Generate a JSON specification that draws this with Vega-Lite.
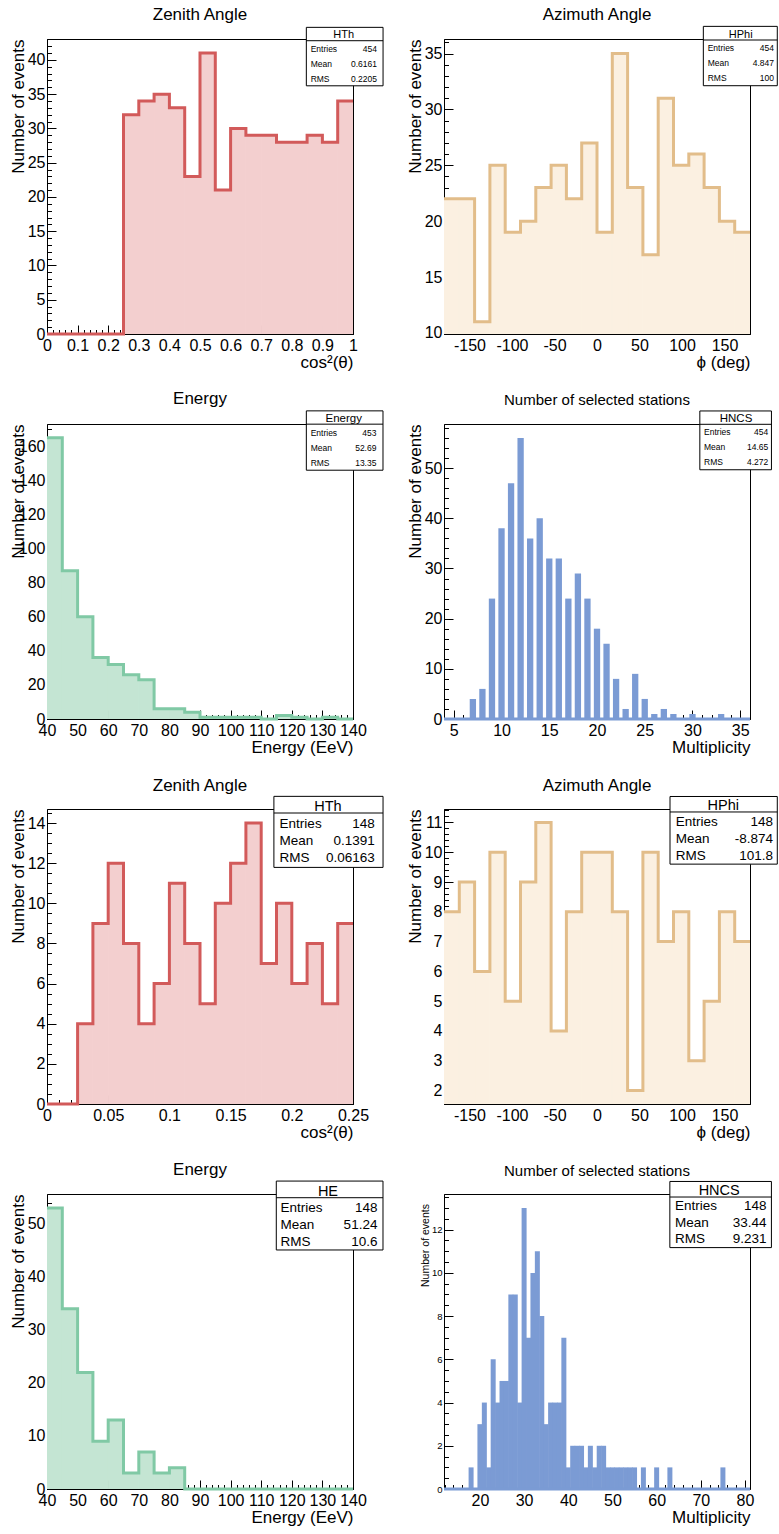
{
"$schema": "https://vega.github.io/schema/vega-lite/v6.json",
"background": "white",
"padding": {"left": 8, "top": 5, "right": 0, "bottom": 0},
"columns": 2,
"spacing": {"row": 90, "column": 91},
"bounds": "flush",
"concat": [
{
 "width": 306, "height": 295,
 "title": {"text": "Zenith Angle", "offset": 3.2},
 "resolve": {"axis": {"x": "independent", "y": "independent"}},
 "layer": [
  {"data": {"name": "hth1"}, "mark": {"type": "rect", "fill": "#f3cfcf", "stroke": "#f3cfcf", "strokeWidth": 1, "clip": true},
   "encoding": {
    "x": {"field": "lo", "type": "quantitative", "scale": {"domain": [0, 1], "nice": false, "zero": false}, "axis": {"values": [0,0.1,0.2,0.3,0.4,0.5,0.6,0.7,0.8,0.9,1], "labelExpr": "'' + datum.value", "title": "cos²(θ)"}},
    "x2": {"field": "hi"},
    "y": {"field": "n", "type": "quantitative", "scale": {"domain": [0, 43.05], "nice": false, "zero": false}, "axis": {"values": [0,5,10,15,20,25,30,35,40], "title": "Number of events"}},
    "y2": {"datum": 0}}},
  {"data": {"name": "hth1"}, "transform": [{"fold": ["lo", "hi"], "as": ["edge", "x"]}],
   "mark": {"type": "line", "color": "#d25a5a", "strokeWidth": 3, "strokeJoin": "miter", "strokeCap": "butt"},
   "encoding": {
    "x": {"field": "x", "type": "quantitative", "axis": {"orient": "bottom", "tickCount": 50, "labels": false, "domain": false, "tickSize": -4.5, "title": null}},
    "y": {"field": "n", "type": "quantitative", "axis": {"orient": "left", "tickCount": 43, "labels": false, "domain": false, "tickSize": -4.5, "title": null}},
    "order": [{"field": "x", "type": "quantitative"}, {"field": "edge", "type": "nominal"}]}},
  {"data": {"name": "st1"}, "layer": [
   {"mark": {"type": "rect", "fill": "white", "stroke": "black", "strokeWidth": 1}, "encoding": {"x": {"datum": 0.8475, "type": "quantitative", "axis": null}, "x2": {"datum": 1.0982}, "y": {"datum": 44.75, "type": "quantitative", "axis": null}, "y2": {"datum": 36.22}}},
   {"mark": {"type": "rule", "color": "black", "strokeWidth": 1}, "encoding": {"x": {"datum": 0.8475, "type": "quantitative", "axis": null}, "x2": {"datum": 1.0982}, "y": {"datum": 42.8, "type": "quantitative", "axis": null}}},
   {"mark": {"type": "text", "align": "center", "baseline": "alphabetic", "fontSize": 11, "color": "black"}, "encoding": {"x": {"datum": 0.9696, "type": "quantitative", "axis": null}, "y": {"datum": 43.2, "type": "quantitative", "axis": null}, "text": {"field": "title", "type": "nominal"}}},
   {"mark": {"type": "text", "align": "left", "baseline": "alphabetic", "fontSize": 8.5, "lineHeight": 15, "color": "black"}, "encoding": {"x": {"datum": 0.8616, "type": "quantitative", "axis": null}, "y": {"datum": 41.2, "type": "quantitative", "axis": null}, "text": {"field": "labels", "type": "nominal"}}},
   {"mark": {"type": "text", "align": "right", "baseline": "alphabetic", "fontSize": 8.5, "lineHeight": 15, "color": "black"}, "encoding": {"x": {"datum": 1.0785, "type": "quantitative", "axis": null}, "y": {"datum": 41.2, "type": "quantitative", "axis": null}, "text": {"field": "values", "type": "nominal"}}}
  ]}
 ]
},
{
 "width": 306, "height": 295,
 "title": {"text": "Azimuth Angle", "offset": 2.2},
 "resolve": {"axis": {"x": "independent", "y": "independent"}},
 "layer": [
  {"data": {"name": "hphi1"}, "mark": {"type": "rect", "fill": "#fbf0e1", "stroke": "#fbf0e1", "strokeWidth": 1, "clip": true},
   "encoding": {
    "x": {"field": "lo", "type": "quantitative", "scale": {"domain": [-180, 180], "nice": false, "zero": false}, "axis": {"values": [-150,-100,-50,0,50,100,150], "labelExpr": "'' + datum.value", "title": "ϕ (deg)"}},
    "x2": {"field": "hi"},
    "y": {"field": "n", "type": "quantitative", "scale": {"domain": [9.9, 36.3], "nice": false, "zero": false}, "axis": {"values": [10,15,20,25,30,35], "title": "Number of events"}},
    "y2": {"datum": 0}}},
  {"data": {"name": "hphi1"}, "transform": [{"fold": ["lo", "hi"], "as": ["edge", "x"]}],
   "mark": {"type": "line", "color": "#e2bd8a", "strokeWidth": 3, "strokeJoin": "miter", "strokeCap": "butt"},
   "encoding": {
    "x": {"field": "x", "type": "quantitative", "axis": {"orient": "bottom", "tickCount": 36, "labels": false, "domain": false, "tickSize": -4.5, "title": null}},
    "y": {"field": "n", "type": "quantitative", "axis": {"orient": "left", "tickCount": 26, "labels": false, "domain": false, "tickSize": -4.5, "title": null}},
    "order": [{"field": "x", "type": "quantitative"}, {"field": "edge", "type": "nominal"}]}},
  {"data": {"name": "st2"}, "layer": [
   {"mark": {"type": "rect", "fill": "white", "stroke": "black", "strokeWidth": 1}, "encoding": {"x": {"datum": 125.1, "type": "quantitative", "axis": null}, "x2": {"datum": 212.1}, "y": {"datum": 37.43, "type": "quantitative", "axis": null}, "y2": {"datum": 32.12}}},
   {"mark": {"type": "rule", "color": "black", "strokeWidth": 1}, "encoding": {"x": {"datum": 125.1, "type": "quantitative", "axis": null}, "x2": {"datum": 212.1}, "y": {"datum": 36.21, "type": "quantitative", "axis": null}}},
   {"mark": {"type": "text", "align": "center", "baseline": "alphabetic", "fontSize": 11, "color": "black"}, "encoding": {"x": {"datum": 169.1, "type": "quantitative", "axis": null}, "y": {"datum": 36.39, "type": "quantitative", "axis": null}, "text": {"field": "title", "type": "nominal"}}},
   {"mark": {"type": "text", "align": "left", "baseline": "alphabetic", "fontSize": 8.5, "lineHeight": 15, "color": "black"}, "encoding": {"x": {"datum": 130.2, "type": "quantitative", "axis": null}, "y": {"datum": 35.19, "type": "quantitative", "axis": null}, "text": {"field": "labels", "type": "nominal"}}},
   {"mark": {"type": "text", "align": "right", "baseline": "alphabetic", "fontSize": 8.5, "lineHeight": 15, "color": "black"}, "encoding": {"x": {"datum": 208.2, "type": "quantitative", "axis": null}, "y": {"datum": 35.19, "type": "quantitative", "axis": null}, "text": {"field": "values", "type": "nominal"}}}
  ]}
 ]
},
{
 "width": 306, "height": 295,
 "title": {"text": "Energy", "offset": 2.2},
 "resolve": {"axis": {"x": "independent", "y": "independent"}},
 "layer": [
  {"data": {"name": "energy1"}, "mark": {"type": "rect", "fill": "#c4e5d3", "stroke": "#c4e5d3", "strokeWidth": 1, "clip": true},
   "encoding": {
    "x": {"field": "lo", "type": "quantitative", "scale": {"domain": [40, 140], "nice": false, "zero": false}, "axis": {"values": [40,50,60,70,80,90,100,110,120,130,140], "labelExpr": "'' + datum.value", "title": "Energy (EeV)"}},
    "x2": {"field": "hi"},
    "y": {"field": "n", "type": "quantitative", "scale": {"domain": [0, 173], "nice": false, "zero": false}, "axis": {"values": [0,20,40,60,80,100,120,140,160], "title": "Number of events"}},
    "y2": {"datum": 0}}},
  {"data": {"name": "energy1"}, "transform": [{"fold": ["lo", "hi"], "as": ["edge", "x"]}],
   "mark": {"type": "line", "color": "#80c9a5", "strokeWidth": 3, "strokeJoin": "miter", "strokeCap": "butt"},
   "encoding": {
    "x": {"field": "x", "type": "quantitative", "axis": {"orient": "bottom", "tickCount": 50, "labels": false, "domain": false, "tickSize": -4.5, "title": null}},
    "y": {"field": "n", "type": "quantitative", "axis": {"orient": "left", "tickCount": 35, "labels": false, "domain": false, "tickSize": -4.5, "title": null}},
    "order": [{"field": "x", "type": "quantitative"}, {"field": "edge", "type": "nominal"}]}},
  {"data": {"name": "st3"}, "layer": [
   {"mark": {"type": "rect", "fill": "white", "stroke": "black", "strokeWidth": 1}, "encoding": {"x": {"datum": 124.75, "type": "quantitative", "axis": null}, "x2": {"datum": 149.8}, "y": {"datum": 180.7, "type": "quantitative", "axis": null}, "y2": {"datum": 145.9}}},
   {"mark": {"type": "rule", "color": "black", "strokeWidth": 1}, "encoding": {"x": {"datum": 124.75, "type": "quantitative", "axis": null}, "x2": {"datum": 149.8}, "y": {"datum": 172.9, "type": "quantitative", "axis": null}}},
   {"mark": {"type": "text", "align": "center", "baseline": "alphabetic", "fontSize": 11.5, "color": "black"}, "encoding": {"x": {"datum": 136.96, "type": "quantitative", "axis": null}, "y": {"datum": 174.3, "type": "quantitative", "axis": null}, "text": {"field": "title", "type": "nominal"}}},
   {"mark": {"type": "text", "align": "left", "baseline": "alphabetic", "fontSize": 8.5, "lineHeight": 15, "color": "black"}, "encoding": {"x": {"datum": 126.16, "type": "quantitative", "axis": null}, "y": {"datum": 166.05, "type": "quantitative", "axis": null}, "text": {"field": "labels", "type": "nominal"}}},
   {"mark": {"type": "text", "align": "right", "baseline": "alphabetic", "fontSize": 8.5, "lineHeight": 15, "color": "black"}, "encoding": {"x": {"datum": 147.66, "type": "quantitative", "axis": null}, "y": {"datum": 166.05, "type": "quantitative", "axis": null}, "text": {"field": "values", "type": "nominal"}}}
  ]}
 ]
},
{
 "width": 306, "height": 295,
 "title": {"text": "Number of selected stations", "fontSize": 15, "offset": 2.2},
 "resolve": {"axis": {"x": "independent", "y": "independent"}},
 "layer": [
  {"data": {"name": "hncs1"}, "mark": {"type": "bar", "color": "#7b9bd4", "size": 6.3},
   "encoding": {
    "x": {"field": "m", "type": "quantitative", "scale": {"domain": [4.5, 35.5], "nice": false, "zero": false}, "axis": {"values": [5,10,15,20,25,30,35], "labelExpr": "'' + datum.value", "title": "Multiplicity"}},
    "y": {"field": "n", "type": "quantitative", "scale": {"domain": [0, 58.8], "nice": false, "zero": false}, "axis": {"values": [0,10,20,30,40,50], "title": "Number of events"}}}},
  {"data": {"name": "hncs1"}, "mark": {"type": "point", "opacity": 0},
   "encoding": {
    "x": {"field": "m", "type": "quantitative", "axis": {"orient": "bottom", "tickCount": 31, "labels": false, "domain": false, "tickSize": -4.5, "title": null}},
    "y": {"field": "n", "type": "quantitative", "axis": {"orient": "left", "tickCount": 29, "labels": false, "domain": false, "tickSize": -4.5, "title": null}}}},
  {"data": {"values": [{}]}, "mark": {"type": "rule", "color": "#7b9bd4", "strokeWidth": 3},
   "encoding": {"y": {"datum": 0, "type": "quantitative", "axis": null}}},
  {"data": {"name": "st4"}, "layer": [
   {"mark": {"type": "rect", "fill": "white", "stroke": "black", "strokeWidth": 1}, "encoding": {"x": {"datum": 30.77, "type": "quantitative", "axis": null}, "x2": {"datum": 38.27}, "y": {"datum": 61.4, "type": "quantitative", "axis": null}, "y2": {"datum": 49.68}}},
   {"mark": {"type": "rule", "color": "black", "strokeWidth": 1}, "encoding": {"x": {"datum": 30.77, "type": "quantitative", "axis": null}, "x2": {"datum": 38.27}, "y": {"datum": 58.74, "type": "quantitative", "axis": null}}},
   {"mark": {"type": "text", "align": "center", "baseline": "alphabetic", "fontSize": 11.5, "color": "black"}, "encoding": {"x": {"datum": 34.56, "type": "quantitative", "axis": null}, "y": {"datum": 59.2, "type": "quantitative", "axis": null}, "text": {"field": "title", "type": "nominal"}}},
   {"mark": {"type": "text", "align": "left", "baseline": "alphabetic", "fontSize": 8.5, "lineHeight": 15, "color": "black"}, "encoding": {"x": {"datum": 31.21, "type": "quantitative", "axis": null}, "y": {"datum": 56.54, "type": "quantitative", "axis": null}, "text": {"field": "labels", "type": "nominal"}}},
   {"mark": {"type": "text", "align": "right", "baseline": "alphabetic", "fontSize": 8.5, "lineHeight": 15, "color": "black"}, "encoding": {"x": {"datum": 37.93, "type": "quantitative", "axis": null}, "y": {"datum": 56.54, "type": "quantitative", "axis": null}, "text": {"field": "values", "type": "nominal"}}}
  ]}
 ]
},
{
 "width": 306, "height": 295,
 "title": {"text": "Zenith Angle", "offset": 1.2},
 "resolve": {"axis": {"x": "independent", "y": "independent"}},
 "layer": [
  {"data": {"name": "hth2"}, "mark": {"type": "rect", "fill": "#f3cfcf", "stroke": "#f3cfcf", "strokeWidth": 1, "clip": true},
   "encoding": {
    "x": {"field": "lo", "type": "quantitative", "scale": {"domain": [0, 0.25], "nice": false, "zero": false}, "axis": {"values": [0,0.05,0.1,0.15,0.2,0.25], "labelExpr": "'' + datum.value", "title": "cos²(θ)"}},
    "x2": {"field": "hi"},
    "y": {"field": "n", "type": "quantitative", "scale": {"domain": [0, 14.7], "nice": false, "zero": false}, "axis": {"values": [0,2,4,6,8,10,12,14], "title": "Number of events"}},
    "y2": {"datum": 0}}},
  {"data": {"name": "hth2"}, "transform": [{"fold": ["lo", "hi"], "as": ["edge", "x"]}],
   "mark": {"type": "line", "color": "#d25a5a", "strokeWidth": 3, "strokeJoin": "miter", "strokeCap": "butt"},
   "encoding": {
    "x": {"field": "x", "type": "quantitative", "axis": {"orient": "bottom", "tickCount": 25, "labels": false, "domain": false, "tickSize": -4.5, "title": null}},
    "y": {"field": "n", "type": "quantitative", "axis": {"orient": "left", "tickCount": 29, "labels": false, "domain": false, "tickSize": -4.5, "title": null}},
    "order": [{"field": "x", "type": "quantitative"}, {"field": "edge", "type": "nominal"}]}},
  {"data": {"name": "st5"}, "layer": [
   {"mark": {"type": "rect", "fill": "white", "stroke": "black", "strokeWidth": 1}, "encoding": {"x": {"datum": 0.18537, "type": "quantitative", "axis": null}, "x2": {"datum": 0.27454}, "y": {"datum": 15.33, "type": "quantitative", "axis": null}, "y2": {"datum": 11.79}}},
   {"mark": {"type": "rule", "color": "black", "strokeWidth": 1}, "encoding": {"x": {"datum": 0.18537, "type": "quantitative", "axis": null}, "x2": {"datum": 0.27454}, "y": {"datum": 14.5, "type": "quantitative", "axis": null}}},
   {"mark": {"type": "text", "align": "center", "baseline": "alphabetic", "fontSize": 14.5, "color": "black"}, "encoding": {"x": {"datum": 0.22955, "type": "quantitative", "axis": null}, "y": {"datum": 14.58, "type": "quantitative", "axis": null}, "text": {"field": "title", "type": "nominal"}}},
   {"mark": {"type": "text", "align": "left", "baseline": "alphabetic", "fontSize": 13.5, "lineHeight": 17.2, "color": "black"}, "encoding": {"x": {"datum": 0.19004, "type": "quantitative", "axis": null}, "y": {"datum": 13.75, "type": "quantitative", "axis": null}, "text": {"field": "labels", "type": "nominal"}}},
   {"mark": {"type": "text", "align": "right", "baseline": "alphabetic", "fontSize": 13.5, "lineHeight": 17.2, "color": "black"}, "encoding": {"x": {"datum": 0.26775, "type": "quantitative", "axis": null}, "y": {"datum": 13.75, "type": "quantitative", "axis": null}, "text": {"field": "values", "type": "nominal"}}}
  ]}
 ]
},
{
 "width": 306, "height": 295,
 "title": {"text": "Azimuth Angle", "offset": 1.2},
 "resolve": {"axis": {"x": "independent", "y": "independent"}},
 "layer": [
  {"data": {"name": "hphi2"}, "mark": {"type": "rect", "fill": "#fbf0e1", "stroke": "#fbf0e1", "strokeWidth": 1, "clip": true},
   "encoding": {
    "x": {"field": "lo", "type": "quantitative", "scale": {"domain": [-180, 180], "nice": false, "zero": false}, "axis": {"values": [-150,-100,-50,0,50,100,150], "labelExpr": "'' + datum.value", "title": "ϕ (deg)"}},
    "x2": {"field": "hi"},
    "y": {"field": "n", "type": "quantitative", "scale": {"domain": [1.55, 11.45], "nice": false, "zero": false}, "axis": {"values": [2,3,4,5,6,7,8,9,10,11], "title": "Number of events"}},
    "y2": {"datum": 0}}},
  {"data": {"name": "hphi2"}, "transform": [{"fold": ["lo", "hi"], "as": ["edge", "x"]}],
   "mark": {"type": "line", "color": "#e2bd8a", "strokeWidth": 3, "strokeJoin": "miter", "strokeCap": "butt"},
   "encoding": {
    "x": {"field": "x", "type": "quantitative", "axis": {"orient": "bottom", "tickCount": 36, "labels": false, "domain": false, "tickSize": -4.5, "title": null}},
    "y": {"field": "n", "type": "quantitative", "axis": {"orient": "left", "tickCount": 50, "labels": false, "domain": false, "tickSize": -4.5, "title": null}},
    "order": [{"field": "x", "type": "quantitative"}, {"field": "edge", "type": "nominal"}]}},
  {"data": {"name": "st6"}, "layer": [
   {"mark": {"type": "rect", "fill": "white", "stroke": "black", "strokeWidth": 1}, "encoding": {"x": {"datum": 85.9, "type": "quantitative", "axis": null}, "x2": {"datum": 212.1}, "y": {"datum": 11.87, "type": "quantitative", "axis": null}, "y2": {"datum": 9.6}}},
   {"mark": {"type": "rule", "color": "black", "strokeWidth": 1}, "encoding": {"x": {"datum": 85.9, "type": "quantitative", "axis": null}, "x2": {"datum": 212.1}, "y": {"datum": 11.35, "type": "quantitative", "axis": null}}},
   {"mark": {"type": "text", "align": "center", "baseline": "alphabetic", "fontSize": 14.5, "color": "black"}, "encoding": {"x": {"datum": 148.6, "type": "quantitative", "axis": null}, "y": {"datum": 11.43, "type": "quantitative", "axis": null}, "text": {"field": "title", "type": "nominal"}}},
   {"mark": {"type": "text", "align": "left", "baseline": "alphabetic", "fontSize": 13.5, "lineHeight": 17, "color": "black"}, "encoding": {"x": {"datum": 92.6, "type": "quantitative", "axis": null}, "y": {"datum": 10.87, "type": "quantitative", "axis": null}, "text": {"field": "labels", "type": "nominal"}}},
   {"mark": {"type": "text", "align": "right", "baseline": "alphabetic", "fontSize": 13.5, "lineHeight": 17, "color": "black"}, "encoding": {"x": {"datum": 207.1, "type": "quantitative", "axis": null}, "y": {"datum": 10.87, "type": "quantitative", "axis": null}, "text": {"field": "values", "type": "nominal"}}}
  ]}
 ]
},
{
 "width": 306, "height": 295,
 "title": {"text": "Energy", "offset": 1.5},
 "resolve": {"axis": {"x": "independent", "y": "independent"}},
 "layer": [
  {"data": {"name": "he2"}, "mark": {"type": "rect", "fill": "#c4e5d3", "stroke": "#c4e5d3", "strokeWidth": 1, "clip": true},
   "encoding": {
    "x": {"field": "lo", "type": "quantitative", "scale": {"domain": [40, 140], "nice": false, "zero": false}, "axis": {"values": [40,50,60,70,80,90,100,110,120,130,140], "labelExpr": "'' + datum.value", "title": "Energy (EeV)"}},
    "x2": {"field": "hi"},
    "y": {"field": "n", "type": "quantitative", "scale": {"domain": [0, 55.65], "nice": false, "zero": false}, "axis": {"values": [0,10,20,30,40,50], "title": "Number of events"}},
    "y2": {"datum": 0}}},
  {"data": {"name": "he2"}, "transform": [{"fold": ["lo", "hi"], "as": ["edge", "x"]}],
   "mark": {"type": "line", "color": "#80c9a5", "strokeWidth": 3, "strokeJoin": "miter", "strokeCap": "butt"},
   "encoding": {
    "x": {"field": "x", "type": "quantitative", "axis": {"orient": "bottom", "tickCount": 50, "labels": false, "domain": false, "tickSize": -4.5, "title": null}},
    "y": {"field": "n", "type": "quantitative", "axis": {"orient": "left", "tickCount": 28, "labels": false, "domain": false, "tickSize": -4.5, "title": null}},
    "order": [{"field": "x", "type": "quantitative"}, {"field": "edge", "type": "nominal"}]}},
  {"data": {"name": "st7"}, "layer": [
   {"mark": {"type": "rect", "fill": "white", "stroke": "black", "strokeWidth": 1}, "encoding": {"x": {"datum": 114.93, "type": "quantitative", "axis": null}, "x2": {"datum": 149.8}, "y": {"datum": 58.09, "type": "quantitative", "axis": null}, "y2": {"datum": 45.09}}},
   {"mark": {"type": "rule", "color": "black", "strokeWidth": 1}, "encoding": {"x": {"datum": 114.93, "type": "quantitative", "axis": null}, "x2": {"datum": 149.8}, "y": {"datum": 54.95, "type": "quantitative", "axis": null}}},
   {"mark": {"type": "text", "align": "center", "baseline": "alphabetic", "fontSize": 14.5, "color": "black"}, "encoding": {"x": {"datum": 131.82, "type": "quantitative", "axis": null}, "y": {"datum": 55.27, "type": "quantitative", "axis": null}, "text": {"field": "title", "type": "nominal"}}},
   {"mark": {"type": "text", "align": "left", "baseline": "alphabetic", "fontSize": 13.5, "lineHeight": 17, "color": "black"}, "encoding": {"x": {"datum": 116.34, "type": "quantitative", "axis": null}, "y": {"datum": 52.2, "type": "quantitative", "axis": null}, "text": {"field": "labels", "type": "nominal"}}},
   {"mark": {"type": "text", "align": "right", "baseline": "alphabetic", "fontSize": 13.5, "lineHeight": 17, "color": "black"}, "encoding": {"x": {"datum": 147.98, "type": "quantitative", "axis": null}, "y": {"datum": 52.2, "type": "quantitative", "axis": null}, "text": {"field": "values", "type": "nominal"}}}
  ]}
 ]
},
{
 "width": 306, "height": 295,
 "title": {"text": "Number of selected stations", "fontSize": 15, "offset": 1.5},
 "resolve": {"axis": {"x": "independent", "y": "independent"}},
 "layer": [
  {"data": {"name": "hncs2"}, "mark": {"type": "bar", "color": "#7b9bd4", "size": 5},
   "encoding": {
    "x": {"field": "m", "type": "quantitative", "scale": {"domain": [13, 80], "nice": false, "zero": false}, "axis": {"values": [20,30,40,50,60,70,80], "labelExpr": "'' + datum.value", "title": "Multiplicity"}},
    "y": {"field": "n", "type": "quantitative", "scale": {"domain": [0, 13.65], "nice": false, "zero": false}, "axis": {"values": [0,2,4,6,8,10,12], "title": "Number of events", "labelFontSize": 9.5, "titleFontSize": 10.5, "titleX": -15.8, "titleY": 9.6}}}},
  {"data": {"name": "hncs2"}, "mark": {"type": "point", "opacity": 0},
   "encoding": {
    "x": {"field": "m", "type": "quantitative", "axis": {"orient": "bottom", "tickCount": 34, "labels": false, "domain": false, "tickSize": -4.5, "title": null}},
    "y": {"field": "n", "type": "quantitative", "axis": {"orient": "left", "tickCount": 27, "labels": false, "domain": false, "tickSize": -4.5, "title": null}}}},
  {"data": {"values": [{}]}, "mark": {"type": "rule", "color": "#7b9bd4", "strokeWidth": 3},
   "encoding": {"y": {"datum": 0, "type": "quantitative", "axis": null}}},
  {"data": {"name": "st8"}, "layer": [
   {"mark": {"type": "rect", "fill": "white", "stroke": "black", "strokeWidth": 1}, "encoding": {"x": {"datum": 62.99, "type": "quantitative", "axis": null}, "x2": {"datum": 85.98}, "y": {"datum": 14.23, "type": "quantitative", "axis": null}, "y2": {"datum": 11.17}}},
   {"mark": {"type": "rule", "color": "black", "strokeWidth": 1}, "encoding": {"x": {"datum": 62.99, "type": "quantitative", "axis": null}, "x2": {"datum": 85.98}, "y": {"datum": 13.51, "type": "quantitative", "axis": null}}},
   {"mark": {"type": "text", "align": "center", "baseline": "alphabetic", "fontSize": 14.5, "color": "black"}, "encoding": {"x": {"datum": 74.16, "type": "quantitative", "axis": null}, "y": {"datum": 13.62, "type": "quantitative", "axis": null}, "text": {"field": "title", "type": "nominal"}}},
   {"mark": {"type": "text", "align": "left", "baseline": "alphabetic", "fontSize": 13.5, "lineHeight": 16.4, "color": "black"}, "encoding": {"x": {"datum": 64.17, "type": "quantitative", "axis": null}, "y": {"datum": 12.89, "type": "quantitative", "axis": null}, "text": {"field": "labels", "type": "nominal"}}},
   {"mark": {"type": "text", "align": "right", "baseline": "alphabetic", "fontSize": 13.5, "lineHeight": 16.4, "color": "black"}, "encoding": {"x": {"datum": 84.89, "type": "quantitative", "axis": null}, "y": {"datum": 12.89, "type": "quantitative", "axis": null}, "text": {"field": "values", "type": "nominal"}}}
  ]}
 ]
}
],
"config": {
 "font": "Liberation Sans",
 "view": {"stroke": "black", "strokeWidth": 1},
 "title": {"font": "Liberation Sans", "fontSize": 17, "fontWeight": "normal", "color": "#000", "anchor": "middle", "baseline": "alphabetic", "frame": "group"},
 "axis": {"labelFont": "Liberation Sans", "titleFont": "Liberation Sans", "labelFontSize": 16, "titleFontSize": 17, "titleFontWeight": "normal", "labelColor": "#000", "titleColor": "#000", "domainColor": "#000", "tickColor": "#000", "grid": false, "labelOverlap": false, "labelFlush": false, "tickSize": -9, "zindex": 1, "domainWidth": 1, "tickWidth": 1},
 "axisX": {"labelPadding": 12, "titleAnchor": "end", "titleAlign": "right", "titleBaseline": "alphabetic", "titleY": 33.5},
 "axisY": {"labelPadding": 11, "titleAlign": "right", "titleBaseline": "alphabetic", "titleX": -24, "titleY": 0, "titleAngle": 270}
},
"datasets": {
 "hth1": [
  {"lo": 0, "hi": 0.05, "n": 0}, {"lo": 0.05, "hi": 0.1, "n": 0}, {"lo": 0.1, "hi": 0.15, "n": 0}, {"lo": 0.15, "hi": 0.2, "n": 0}, {"lo": 0.2, "hi": 0.25, "n": 0},
  {"lo": 0.25, "hi": 0.3, "n": 32}, {"lo": 0.3, "hi": 0.35, "n": 34}, {"lo": 0.35, "hi": 0.4, "n": 35}, {"lo": 0.4, "hi": 0.45, "n": 33}, {"lo": 0.45, "hi": 0.5, "n": 23},
  {"lo": 0.5, "hi": 0.55, "n": 41}, {"lo": 0.55, "hi": 0.6, "n": 21}, {"lo": 0.6, "hi": 0.65, "n": 30}, {"lo": 0.65, "hi": 0.7, "n": 29}, {"lo": 0.7, "hi": 0.75, "n": 29},
  {"lo": 0.75, "hi": 0.8, "n": 28}, {"lo": 0.8, "hi": 0.85, "n": 28}, {"lo": 0.85, "hi": 0.9, "n": 29}, {"lo": 0.9, "hi": 0.95, "n": 28}, {"lo": 0.95, "hi": 1, "n": 34}
 ],
 "hphi1": [
  {"lo": -180, "hi": -162, "n": 22}, {"lo": -162, "hi": -144, "n": 22}, {"lo": -144, "hi": -126, "n": 11}, {"lo": -126, "hi": -108, "n": 25}, {"lo": -108, "hi": -90, "n": 19},
  {"lo": -90, "hi": -72, "n": 20}, {"lo": -72, "hi": -54, "n": 23}, {"lo": -54, "hi": -36, "n": 25}, {"lo": -36, "hi": -18, "n": 22}, {"lo": -18, "hi": 0, "n": 27},
  {"lo": 0, "hi": 18, "n": 19}, {"lo": 18, "hi": 36, "n": 35}, {"lo": 36, "hi": 54, "n": 23}, {"lo": 54, "hi": 72, "n": 17}, {"lo": 72, "hi": 90, "n": 31},
  {"lo": 90, "hi": 108, "n": 25}, {"lo": 108, "hi": 126, "n": 26}, {"lo": 126, "hi": 144, "n": 23}, {"lo": 144, "hi": 162, "n": 20}, {"lo": 162, "hi": 180, "n": 19}
 ],
 "energy1": [
  {"lo": 40, "hi": 45, "n": 165}, {"lo": 45, "hi": 50, "n": 87}, {"lo": 50, "hi": 55, "n": 60}, {"lo": 55, "hi": 60, "n": 36}, {"lo": 60, "hi": 65, "n": 32},
  {"lo": 65, "hi": 70, "n": 26}, {"lo": 70, "hi": 75, "n": 23}, {"lo": 75, "hi": 80, "n": 6}, {"lo": 80, "hi": 85, "n": 6}, {"lo": 85, "hi": 90, "n": 4},
  {"lo": 90, "hi": 95, "n": 1}, {"lo": 95, "hi": 100, "n": 1}, {"lo": 100, "hi": 105, "n": 1}, {"lo": 105, "hi": 110, "n": 1}, {"lo": 110, "hi": 115, "n": 0},
  {"lo": 115, "hi": 120, "n": 2}, {"lo": 120, "hi": 125, "n": 1}, {"lo": 125, "hi": 130, "n": 0}, {"lo": 130, "hi": 135, "n": 1}, {"lo": 135, "hi": 140, "n": 0}
 ],
 "hncs1": [
  {"m": 5, "n": 0}, {"m": 6, "n": 0}, {"m": 7, "n": 4}, {"m": 8, "n": 6}, {"m": 9, "n": 24}, {"m": 10, "n": 38}, {"m": 11, "n": 47}, {"m": 12, "n": 56},
  {"m": 13, "n": 36}, {"m": 14, "n": 40}, {"m": 15, "n": 32}, {"m": 16, "n": 32}, {"m": 17, "n": 24}, {"m": 18, "n": 29}, {"m": 19, "n": 24}, {"m": 20, "n": 18},
  {"m": 21, "n": 15}, {"m": 22, "n": 8}, {"m": 23, "n": 2}, {"m": 24, "n": 9}, {"m": 25, "n": 4}, {"m": 26, "n": 1}, {"m": 27, "n": 2}, {"m": 28, "n": 1},
  {"m": 29, "n": 0}, {"m": 30, "n": 1}, {"m": 31, "n": 0}, {"m": 32, "n": 0}, {"m": 33, "n": 1}, {"m": 34, "n": 0}, {"m": 35, "n": 0}
 ],
 "hth2": [
  {"lo": 0, "hi": 0.0125, "n": 0}, {"lo": 0.0125, "hi": 0.025, "n": 0}, {"lo": 0.025, "hi": 0.0375, "n": 4}, {"lo": 0.0375, "hi": 0.05, "n": 9}, {"lo": 0.05, "hi": 0.0625, "n": 12},
  {"lo": 0.0625, "hi": 0.075, "n": 8}, {"lo": 0.075, "hi": 0.0875, "n": 4}, {"lo": 0.0875, "hi": 0.1, "n": 6}, {"lo": 0.1, "hi": 0.1125, "n": 11}, {"lo": 0.1125, "hi": 0.125, "n": 8},
  {"lo": 0.125, "hi": 0.1375, "n": 5}, {"lo": 0.1375, "hi": 0.15, "n": 10}, {"lo": 0.15, "hi": 0.1625, "n": 12}, {"lo": 0.1625, "hi": 0.175, "n": 14}, {"lo": 0.175, "hi": 0.1875, "n": 7},
  {"lo": 0.1875, "hi": 0.2, "n": 10}, {"lo": 0.2, "hi": 0.2125, "n": 6}, {"lo": 0.2125, "hi": 0.225, "n": 8}, {"lo": 0.225, "hi": 0.2375, "n": 5}, {"lo": 0.2375, "hi": 0.25, "n": 9}
 ],
 "hphi2": [
  {"lo": -180, "hi": -162, "n": 8}, {"lo": -162, "hi": -144, "n": 9}, {"lo": -144, "hi": -126, "n": 6}, {"lo": -126, "hi": -108, "n": 10}, {"lo": -108, "hi": -90, "n": 5},
  {"lo": -90, "hi": -72, "n": 9}, {"lo": -72, "hi": -54, "n": 11}, {"lo": -54, "hi": -36, "n": 4}, {"lo": -36, "hi": -18, "n": 8}, {"lo": -18, "hi": 0, "n": 10},
  {"lo": 0, "hi": 18, "n": 10}, {"lo": 18, "hi": 36, "n": 8}, {"lo": 36, "hi": 54, "n": 2}, {"lo": 54, "hi": 72, "n": 10}, {"lo": 72, "hi": 90, "n": 7},
  {"lo": 90, "hi": 108, "n": 8}, {"lo": 108, "hi": 126, "n": 3}, {"lo": 126, "hi": 144, "n": 5}, {"lo": 144, "hi": 162, "n": 8}, {"lo": 162, "hi": 180, "n": 7}
 ],
 "he2": [
  {"lo": 40, "hi": 45, "n": 53}, {"lo": 45, "hi": 50, "n": 34}, {"lo": 50, "hi": 55, "n": 22}, {"lo": 55, "hi": 60, "n": 9}, {"lo": 60, "hi": 65, "n": 13},
  {"lo": 65, "hi": 70, "n": 3}, {"lo": 70, "hi": 75, "n": 7}, {"lo": 75, "hi": 80, "n": 3}, {"lo": 80, "hi": 85, "n": 4}, {"lo": 85, "hi": 90, "n": 0},
  {"lo": 90, "hi": 95, "n": 0}, {"lo": 95, "hi": 100, "n": 0}, {"lo": 100, "hi": 105, "n": 0}, {"lo": 105, "hi": 110, "n": 0}, {"lo": 110, "hi": 115, "n": 0},
  {"lo": 115, "hi": 120, "n": 0}, {"lo": 120, "hi": 125, "n": 0}, {"lo": 125, "hi": 130, "n": 0}, {"lo": 130, "hi": 135, "n": 0}, {"lo": 135, "hi": 140, "n": 0}
 ],
 "hncs2": [
  {"m": 13, "n": 0}, {"m": 14, "n": 0}, {"m": 15, "n": 0}, {"m": 16, "n": 0}, {"m": 17, "n": 0}, {"m": 18, "n": 1}, {"m": 19, "n": 0}, {"m": 20, "n": 3},
  {"m": 21, "n": 4}, {"m": 22, "n": 1}, {"m": 23, "n": 6}, {"m": 24, "n": 4}, {"m": 25, "n": 5}, {"m": 26, "n": 5}, {"m": 27, "n": 9}, {"m": 28, "n": 9},
  {"m": 29, "n": 4}, {"m": 30, "n": 13}, {"m": 31, "n": 7}, {"m": 32, "n": 10}, {"m": 33, "n": 11}, {"m": 34, "n": 8}, {"m": 35, "n": 3}, {"m": 36, "n": 4},
  {"m": 37, "n": 4}, {"m": 38, "n": 4}, {"m": 39, "n": 7}, {"m": 40, "n": 1}, {"m": 41, "n": 2}, {"m": 42, "n": 2}, {"m": 43, "n": 2}, {"m": 44, "n": 1},
  {"m": 45, "n": 2}, {"m": 46, "n": 1}, {"m": 47, "n": 2}, {"m": 48, "n": 2}, {"m": 49, "n": 1}, {"m": 50, "n": 1}, {"m": 51, "n": 1}, {"m": 52, "n": 1},
  {"m": 53, "n": 1}, {"m": 54, "n": 1}, {"m": 55, "n": 1}, {"m": 56, "n": 0}, {"m": 57, "n": 1}, {"m": 58, "n": 0}, {"m": 59, "n": 0}, {"m": 60, "n": 1},
  {"m": 61, "n": 0}, {"m": 62, "n": 0}, {"m": 63, "n": 1}, {"m": 64, "n": 0}, {"m": 65, "n": 0}, {"m": 66, "n": 0}, {"m": 67, "n": 0}, {"m": 68, "n": 0},
  {"m": 69, "n": 0}, {"m": 70, "n": 0}, {"m": 71, "n": 0}, {"m": 72, "n": 0}, {"m": 73, "n": 0}, {"m": 74, "n": 0}, {"m": 75, "n": 1}, {"m": 76, "n": 0},
  {"m": 77, "n": 0}, {"m": 78, "n": 0}, {"m": 79, "n": 0}, {"m": 80, "n": 0}
 ],
 "st1": [{"title": "HTh", "labels": ["Entries", "Mean", "RMS"], "values": ["454", "0.6161", "0.2205"]}],
 "st2": [{"title": "HPhi", "labels": ["Entries", "Mean", "RMS"], "values": ["454", "4.847", "100"]}],
 "st3": [{"title": "Energy", "labels": ["Entries", "Mean", "RMS"], "values": ["453", "52.69", "13.35"]}],
 "st4": [{"title": "HNCS", "labels": ["Entries", "Mean", "RMS"], "values": ["454", "14.65", "4.272"]}],
 "st5": [{"title": "HTh", "labels": ["Entries", "Mean", "RMS"], "values": ["148", "0.1391", "0.06163"]}],
 "st6": [{"title": "HPhi", "labels": ["Entries", "Mean", "RMS"], "values": ["148", "-8.874", "101.8"]}],
 "st7": [{"title": "HE", "labels": ["Entries", "Mean", "RMS"], "values": ["148", "51.24", "10.6"]}],
 "st8": [{"title": "HNCS", "labels": ["Entries", "Mean", "RMS"], "values": ["148", "33.44", "9.231"]}]
}
}
